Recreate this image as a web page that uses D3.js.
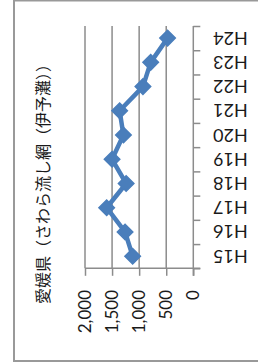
<!DOCTYPE html>
<html>
<head>
<meta charset="utf-8">
<script src="https://cdn.jsdelivr.net/npm/d3@7"></script>
<style>
  body { margin: 0; background: #fff; }
  svg { display: block; }
  .axis text { font-family: Lato, "Liberation Sans", sans-serif; fill: #1a1a1a; }
</style>
</head>
<body>
<div id="chart"></div>
<script>
// chart values
const categories = ["H15", "H16", "H17", "H18", "H19", "H20", "H21", "H22", "H23", "H24"];
const catches = [1120, 1260, 1600, 1240, 1500, 1290, 1360, 930, 787, 475];
const valueTicks = [0, 500, 1000, 1500, 2000];
const chartTitle = "愛媛県（さわら流し網（伊予灘））";

const W = 258, H = 364;
const lineColor = "#4A7EBB";
const gridColor = "#8c8c8c";

const svg = d3.select("#chart").append("svg")
    .attr("width", W)
    .attr("height", H);

// outer frame (its right edge runs past the picture)
svg.append("rect")
    .attr("x", 14).attr("y", 0.5)
    .attr("width", 270).attr("height", 360.5)
    .attr("fill", "none")
    .attr("stroke", "#999")
    .attr("stroke-width", 2);

// the chart is turned on its side: values run right -> left, categories bottom -> top
const plot = { left: 85, right: 193.3, top: 26, bottom: 268.3 };

const x = d3.scaleLinear().domain([0, 2000]).range([plot.right, plot.left]);
const y = d3.scaleBand().domain(categories).range([plot.bottom, plot.top]);
const yIdx = d3.scaleLinear().domain([0, categories.length]).range([plot.bottom, plot.top]);

// gridlines
svg.append("g")
    .selectAll("line")
    .data(valueTicks.filter(d => d > 0))
    .join("line")
    .attr("x1", d => x(d)).attr("x2", d => x(d))
    .attr("y1", plot.top).attr("y2", plot.bottom)
    .attr("stroke", gridColor)
    .attr("stroke-width", 1.5);

// value axis (at the bottom)
const xAxis = d3.axisBottom(x).tickValues(valueTicks).tickSize(7.5).tickFormat("");
const gx = svg.append("g")
    .attr("class", "axis")
    .attr("transform", "translate(0," + plot.bottom + ")")
    .call(xAxis);
gx.select(".domain").attr("d", "M" + plot.left + ",0H" + (plot.right + 7)).attr("stroke", gridColor).attr("stroke-width", 1.5);
gx.selectAll(".tick line").attr("stroke", gridColor).attr("stroke-width", 1.5);

svg.append("g")
    .attr("class", "axis")
    .selectAll("text")
    .data(valueTicks)
    .join("text")
    .attr("transform", d => "translate(" + x(d) + ",290) rotate(-90)")
    .attr("text-anchor", "end")
    .attr("dy", "0.36em")
    .style("font-size", "17px")
    .text(d => d3.format(",")(d));

// category axis (on the right), ticks between categories
const yAxis = d3.axisRight(yIdx).tickValues(d3.range(categories.length + 1)).tickSize(7).tickFormat("");
const gy = svg.append("g")
    .attr("class", "axis")
    .attr("transform", "translate(" + plot.right + ",0)")
    .call(yAxis);
gy.select(".domain").attr("d", "M0," + plot.top + "V" + (plot.bottom + 7.5)).attr("stroke", gridColor).attr("stroke-width", 1.5);
gy.selectAll(".tick line").attr("stroke", gridColor).attr("stroke-width", 1.5);

svg.append("g")
    .attr("class", "axis")
    .selectAll("text")
    .data(categories)
    .join("text")
    .attr("transform", d => "translate(213," + (y(d) + y.bandwidth() / 2) + ") rotate(180)")
    .attr("text-anchor", "end")
    .attr("dy", "0.36em")
    .style("font-size", "18px")
    .text(d => d);

// series line
const points = categories.map((c, i) => ({ cat: c, value: catches[i] }));
const line = d3.line()
    .x(d => x(d.value))
    .y(d => y(d.cat) + y.bandwidth() / 2);

svg.append("path")
    .datum(points)
    .attr("d", line)
    .attr("fill", "none")
    .attr("stroke", lineColor)
    .attr("stroke-width", 4.5)
    .attr("stroke-linejoin", "round");

// diamond markers
const diamond = d3.symbol().type(d3.symbolSquare).size(120);
svg.append("g")
    .selectAll("path")
    .data(points)
    .join("path")
    .attr("d", diamond)
    .attr("transform", d => "translate(" + x(d.value) + "," + (y(d.cat) + y.bandwidth() / 2) + ") rotate(45)")
    .attr("fill", lineColor)
    .attr("stroke", lineColor)
    .attr("stroke-width", 1.5);

// title, turned with the chart
svg.append("text")
    .attr("transform", "translate(43,180) rotate(-90)")
    .attr("text-anchor", "middle")
    .attr("dy", "0.36em")
    .style("font-family", "'Noto Sans CJK JP', sans-serif")
    .style("font-size", "16px")
    .style("fill", "#1a1a1a")
    .text(chartTitle);
</script>
</body>
</html>
